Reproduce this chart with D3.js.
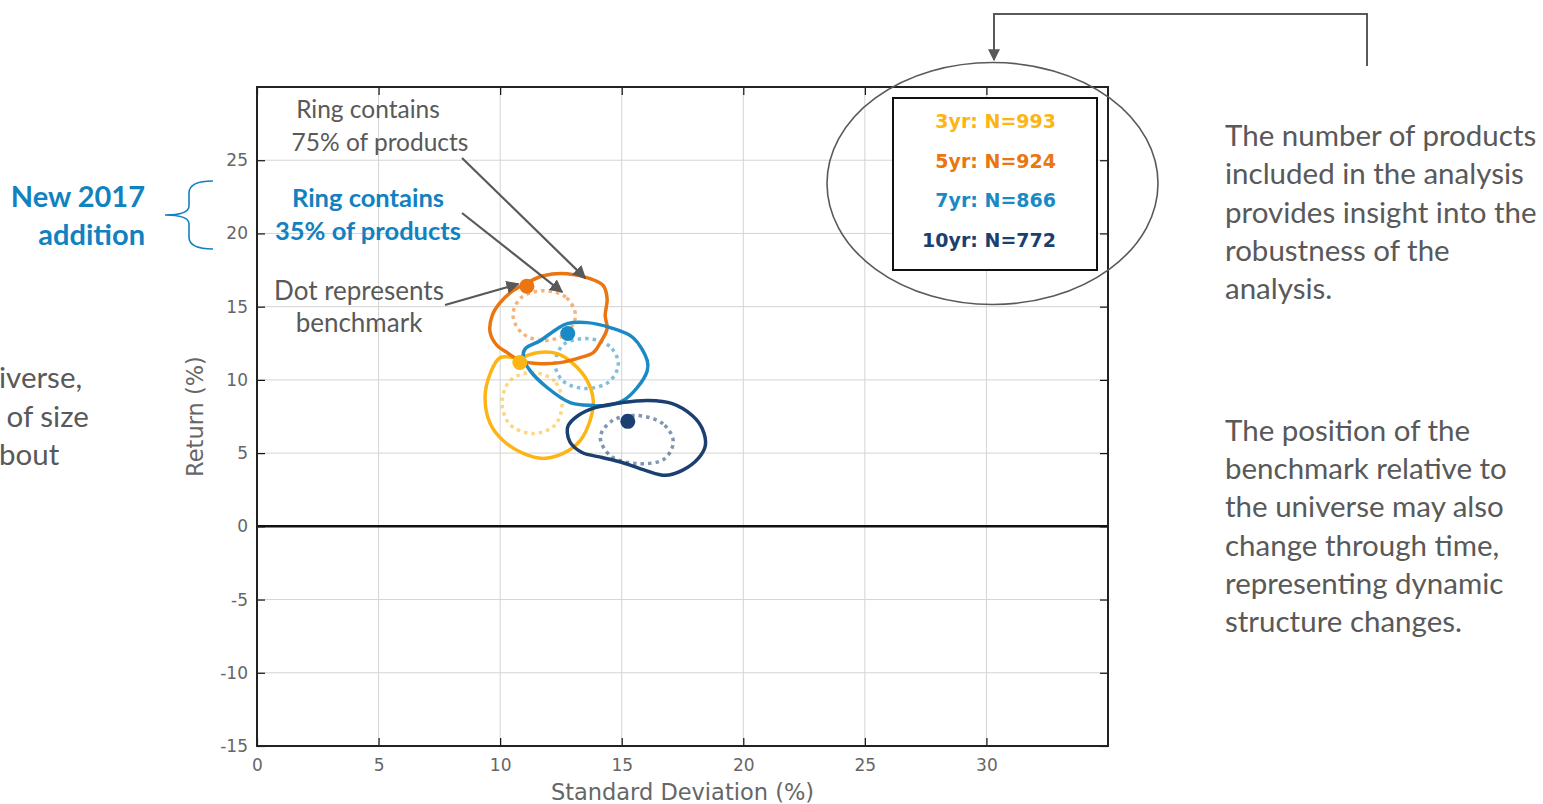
<!DOCTYPE html>
<html>
<head>
<meta charset="utf-8">
<script src="https://cdn.jsdelivr.net/npm/d3@7"></script>
<style>
  html, body { margin: 0; padding: 0; background: #ffffff; }
  svg { display: block; }
</style>
</head>
<body>
<svg id="chart" width="1543" height="804"></svg>
<script>
// ---------------- DATA ----------------
const periods = ["3yr", "5yr", "7yr", "10yr"];
const productCounts = [993, 924, 866, 772];
const benchmarkSD = [10.81, 11.10, 12.78, 15.25];
const benchmarkReturn = [11.19, 16.40, 13.17, 7.17];

// 75% rings (outer, solid) — [standard deviation, return]
const ring75_3yr = [[10.82,11.52],[11.52,11.86],[12.35,11.79],[13.00,11.11],[13.58,9.95],[13.83,8.59],[13.70,7.23],[13.29,5.86],[12.59,4.98],[11.77,4.64],[10.95,4.98],[10.12,5.86],[9.59,7.02],[9.38,8.79],[9.59,10.43],[10.00,11.52]];
const ring75_5yr = [[11.11,16.63],[11.77,17.11],[12.76,17.25],[13.70,16.91],[14.24,16.43],[14.40,15.54],[14.32,14.38],[14.40,13.50],[14.12,12.54],[13.83,11.86],[13.29,11.52],[12.47,11.18],[11.65,11.11],[10.82,11.32],[10.29,11.86],[9.88,12.34],[9.59,13.22],[9.67,14.38],[10.00,15.27],[10.53,16.09]];
const ring75_7yr = [[12.76,13.84],[13.58,13.91],[14.53,13.57],[15.47,12.88],[16.05,11.32],[16.05,10.63],[15.64,9.48],[15.06,8.59],[14.40,8.25],[13.83,8.25],[12.88,8.45],[11.93,9.48],[11.23,10.63],[10.95,11.52],[11.03,12.13],[11.65,12.68],[12.35,13.50]];
const ring75_10yr = [[13.21,7.57],[13.91,8.11],[15.02,8.45],[16.09,8.59],[17.08,8.38],[17.90,7.57],[18.31,6.68],[18.44,5.52],[18.15,4.64],[17.49,3.82],[16.79,3.48],[15.97,3.82],[15.02,4.36],[14.20,4.70],[13.37,5.04],[12.88,5.73],[12.76,6.41],[12.80,6.88]];

// 35% rings (inner, dotted)
const ring35_3yr = [[12.55,8.45],[12.25,9.90],[11.32,10.50],[10.40,9.94],[10.08,8.45],[10.40,6.96],[11.32,6.34],[12.25,6.90]];
const ring35_5yr = [[13.10,14.38],[12.70,15.65],[11.77,16.09],[10.85,15.60],[10.53,14.38],[10.90,13.20],[11.77,12.68],[12.70,13.15]];
const ring35_7yr = [[14.86,11.10],[14.50,12.30],[13.56,12.82],[12.60,12.40],[12.26,11.10],[12.60,9.90],[13.56,9.41],[14.50,9.90]];
const ring35_10yr = [[17.12,5.80],[16.70,7.00],[15.62,7.57],[14.60,7.20],[14.12,6.10],[14.55,4.80],[15.62,4.29],[16.75,4.60]];

const xTicks = [0, 5, 10, 15, 20, 25, 30];
const yTicks = [-15, -10, -5, 0, 5, 10, 15, 20, 25];

const rightText1 = ["The number of products", "included in the analysis", "provides insight into the", "robustness of the", "analysis."];
const rightText2 = ["The position of the", "benchmark relative to", "the universe may also", "change through time,", "representing dynamic", "structure changes."];
const leftText = ["iverse,", " of size", "bout"];

// ---------------- STYLE ----------------
const colors = ["#FDB515", "#EB750F", "#1A8AC6", "#1A3F70"];
const gray = "#595959";
const blue = "#1281C0";
const annoFont = "Lato, 'Open Sans', sans-serif";
const chartFont = "'DejaVu Sans', sans-serif";

const ring75 = [ring75_3yr, ring75_5yr, ring75_7yr, ring75_10yr];
const ring35 = [ring35_3yr, ring35_5yr, ring35_7yr, ring35_10yr];

const svg = d3.select("#chart");

const plot = { left: 257, right: 1108, top: 87, bottom: 746 };
const x = d3.scaleLinear().domain([0, 35]).range([plot.left, plot.right]);
const y = d3.scaleLinear().domain([-15, 30]).range([plot.bottom, plot.top]);

// defs: arrow marker
const defs = svg.append("defs");
defs.append("marker")
  .attr("id", "arrow")
  .attr("viewBox", "0 0 10 10")
  .attr("refX", 9).attr("refY", 5)
  .attr("markerWidth", 6).attr("markerHeight", 6)
  .attr("markerUnits", "strokeWidth")
  .attr("orient", "auto")
  .append("path").attr("d", "M0,0 L10,5 L0,10 z").attr("fill", gray);
defs.append("clipPath").attr("id", "plotclip")
  .append("rect").attr("x", plot.left).attr("y", plot.top)
  .attr("width", plot.right - plot.left).attr("height", plot.bottom - plot.top);

// grid
const grid = svg.append("g");
grid.selectAll("line.gx").data(xTicks.filter(d => d > 0)).enter().append("line")
  .attr("x1", d => x(d)).attr("x2", d => x(d))
  .attr("y1", plot.top).attr("y2", plot.bottom)
  .attr("stroke", "#d4d4d4").attr("stroke-width", 1);
grid.selectAll("line.gy").data(yTicks.filter(d => d > -15)).enter().append("line")
  .attr("x1", plot.left).attr("x2", plot.right)
  .attr("y1", d => y(d)).attr("y2", d => y(d))
  .attr("stroke", "#d4d4d4").attr("stroke-width", 1);

// zero line
svg.append("line")
  .attr("x1", plot.left).attr("x2", plot.right)
  .attr("y1", y(0)).attr("y2", y(0))
  .attr("stroke", "#111").attr("stroke-width", 2.5);

// axes (ticks inside)
const fmt = d => String(d);
const axB = d3.axisBottom(x).tickValues(xTicks).tickSize(-8).tickPadding(13).tickFormat(fmt);
const axL = d3.axisLeft(y).tickValues(yTicks).tickSize(-8).tickPadding(9).tickFormat(fmt);
const axT = d3.axisTop(x).tickValues(xTicks).tickSize(-8).tickFormat("");
const axR = d3.axisRight(y).tickValues(yTicks).tickSize(-8).tickFormat("");

function styleAxis(g) {
  g.select(".domain").remove();
  g.selectAll(".tick line").attr("stroke", "#111").attr("stroke-width", 1.2);
  g.selectAll(".tick text").attr("fill", "#666").style("font-family", chartFont).style("font-size", "17px");
}
svg.append("g").attr("transform", `translate(0,${plot.bottom})`).call(axB).call(styleAxis);
svg.append("g").attr("transform", `translate(${plot.left},0)`).call(axL).call(styleAxis);
svg.append("g").attr("transform", `translate(0,${plot.top})`).call(axT).call(styleAxis);
svg.append("g").attr("transform", `translate(${plot.right},0)`).call(axR).call(styleAxis);

// frame
svg.append("rect")
  .attr("x", plot.left).attr("y", plot.top)
  .attr("width", plot.right - plot.left).attr("height", plot.bottom - plot.top)
  .attr("fill", "none").attr("stroke", "#222").attr("stroke-width", 2);

// axis titles
svg.append("text").attr("x", x(17.5)).attr("y", 800)
  .attr("text-anchor", "middle").attr("fill", "#666")
  .style("font-family", chartFont).style("font-size", "22.5px")
  .text("Standard Deviation (%)");
svg.append("text").attr("transform", `translate(203,${y(7.5)}) rotate(-90)`)
  .attr("text-anchor", "middle").attr("fill", "#666")
  .style("font-family", chartFont).style("font-size", "22.5px")
  .text("Return (%)");

// rings
const line = d3.line().x(d => x(d[0])).y(d => y(d[1])).curve(d3.curveCatmullRomClosed.alpha(0.5));
const rings = svg.append("g").attr("clip-path", "url(#plotclip)");

periods.forEach((p, i) => {
  rings.append("path").datum(ring35[i])
    .attr("d", line).attr("fill", "none")
    .attr("stroke", colors[i]).attr("stroke-opacity", 0.55)
    .attr("stroke-width", 3.5).attr("stroke-dasharray", "3.5 4");
});
periods.forEach((p, i) => {
  rings.append("path").datum(ring75[i])
    .attr("d", line).attr("fill", "none")
    .attr("stroke", colors[i]).attr("stroke-width", 3.5);
});
rings.selectAll("circle.bm").data(periods).enter().append("circle")
  .attr("cx", (d, i) => x(benchmarkSD[i])).attr("cy", (d, i) => y(benchmarkReturn[i]))
  .attr("r", 7.5).attr("fill", (d, i) => colors[i]);

// legend box with counts
const legend = svg.append("g");
legend.append("rect").attr("x", 893).attr("y", 98).attr("width", 204).attr("height", 172)
  .attr("fill", "#fff").attr("stroke", "#111").attr("stroke-width", 2);
legend.selectAll("text").data(periods).enter().append("text")
  .attr("x", 1056).attr("y", (d, i) => 128 + i * 39.7)
  .attr("text-anchor", "end").attr("fill", (d, i) => colors[i])
  .style("font-family", "'DejaVu Sans', sans-serif").style("font-weight", "bold").style("font-size", "19px")
  .text((d, i) => `${d}: N=${productCounts[i]}`);

// oval around legend + connector arrow
svg.append("ellipse").attr("cx", 992.5).attr("cy", 183.5).attr("rx", 165.5).attr("ry", 121)
  .attr("fill", "none").attr("stroke", gray).attr("stroke-width", 1.6);
svg.append("path").attr("d", "M1367,66 L1367,14 L994,14 L994,60")
  .attr("fill", "none").attr("stroke", gray).attr("stroke-width", 2)
  .attr("marker-end", "url(#arrow)");

// annotations
function textBlock(lines, xs, y0, dy, opts) {
  const t = svg.append("text")
    .attr("text-anchor", opts.anchor || "start")
    .attr("fill", opts.color || gray)
    .style("font-family", annoFont)
    .style("font-size", opts.size + "px")
    .style("font-weight", opts.weight || "normal")
    .style("white-space", "pre");
  lines.forEach((l, i) => {
    t.append("tspan").attr("x", Array.isArray(xs) ? xs[i] : xs).attr("y", y0 + i * dy).text(l);
  });
  return t;
}
textBlock(["Ring contains", "75% of products"], [368, 380], 118, 33, { anchor: "middle", size: 24.5 });
textBlock(["Ring contains", "35% of products"], 368, 207, 33, { anchor: "middle", size: 25.5, weight: "bold", color: blue });
textBlock(["Dot represents", "benchmark"], 359, 300, 32, { anchor: "middle", size: 26 });
textBlock(["New 2017", "addition"], 145, 207, 38, { anchor: "end", size: 29, weight: "bold", color: blue });
textBlock(rightText1, 1225, 146, 38.3, { size: 29.5 });
textBlock(rightText2, 1225, 441, 38.2, { size: 29.5 });
textBlock(leftText, -1, 388, 38.5, { size: 29.5 });

// brace
svg.append("path")
  .attr("d", "M213,181 Q189,181 189,193 L189,206 Q189,215 165,215 Q189,215 189,224 L189,237 Q189,249 213,249")
  .attr("fill", "none").attr("stroke", blue).attr("stroke-width", 1.6);

// pointer arrows (targets in data units)
const arrows = [
  { from: [462, 158], to: [13.5, 16.95] },
  { from: [462, 213], to: [12.55, 16.0] },
  { from: [445, 305], to: [10.75, 16.55] }
];
svg.selectAll("line.arrow").data(arrows).enter().append("line")
  .attr("x1", d => d.from[0]).attr("y1", d => d.from[1])
  .attr("x2", d => x(d.to[0])).attr("y2", d => y(d.to[1]))
  .attr("stroke", gray).attr("stroke-width", 2.2)
  .attr("marker-end", "url(#arrow)");
</script>
</body>
</html>
